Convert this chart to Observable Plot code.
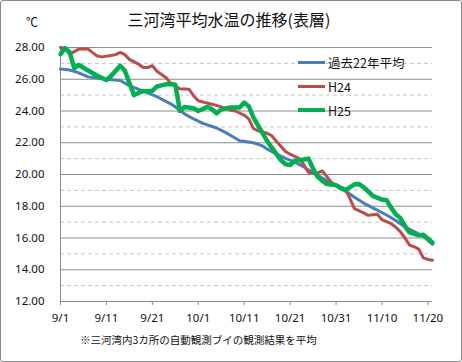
<!DOCTYPE html>
<html><head><meta charset="utf-8">
<script src="https://cdn.jsdelivr.net/npm/d3@7"></script>
<script src="https://cdn.jsdelivr.net/npm/@observablehq/plot@0.6"></script>
<style>
html,body{margin:0;padding:0;background:#fff;}
#wrap{position:relative;width:462px;height:362px;overflow:hidden;font-family:"Noto Sans CJK JP","Noto Sans",sans-serif;color:#111;}
#wrap svg{position:absolute;left:0;top:0;}
.ov{position:absolute;white-space:nowrap;line-height:1;}
#frame{position:absolute;left:0;top:0;width:460px;height:360px;border:1px solid #8a8a8a;border-radius:3px;pointer-events:none;}
.leg{position:absolute;left:298px;display:flex;align-items:center;height:16px;font-size:12.5px;}
.leg span.sw{display:inline-block;width:27px;margin-right:3px;}
</style></head>
<body><div id="wrap"></div>
<script>
const title = "三河湾平均水温の推移(表層)";
const unitLabel = "℃";
const caption = "※三河湾内3カ所の自動観測ブイの観測結果を平均";
const seriesNames = ["過去22年平均", "H24", "H25"];
const seriesColors = ["#4a7ebb", "#be4b48", "#00b050"];
const seriesWidths = [3, 3, 4.5];

// day offsets from 9/1 and values (°C)
const avgDay = [0,2,4,6,8,10,13,15,18,21,24,25,27,29,31,34,36,38,39,42,44,45,47,49,51,53,55,58,60,62,64,66,68,71,73,75,77,79,81];
const avgVal = [26.64,26.58,26.40,26.15,26.08,26.0,25.92,25.6,25.25,24.9,24.45,24.26,23.82,23.5,23.22,22.93,22.64,22.3,22.12,22.0,21.8,21.6,21.3,21.02,20.78,20.48,20.1,19.62,19.3,18.97,18.57,18.2,17.9,17.45,17.1,16.69,16.4,16.1,15.6];

const h24Day = [0,1,2,4,6,8,9,11,12,13,14,15,17,18,19,20,21,23,24,26,28,29,30,33,35,37,38,40,41,42,43,45,46,47,49,50,52,53,54,56,57,59,60,62,63,64,66,67,69,70,72,73,74,75,76,77,78,79,80,81];
const h24Val = [28.0,27.95,27.58,27.9,27.9,27.46,27.41,27.5,27.55,27.69,27.55,27.25,26.95,26.74,26.74,26.85,26.5,26.1,25.74,25.4,25.37,24.95,24.64,24.43,24.26,24.05,24.0,23.74,23.5,22.9,22.75,22.6,22.44,22.1,21.45,21.28,21.0,20.6,20.12,20.1,20.23,19.5,19.33,19.1,18.5,17.85,17.58,17.43,17.49,17.15,16.9,16.68,16.4,16.0,15.55,15.45,15.3,14.75,14.65,14.6];

const h25Day = [0,1,2,3,4,6,8,10,11,13,14,16,17,18,20,21,23,24,25,26,27,29,30,32,33,34,35,37,39,40,41,42,43,44,45,46,47,48,49,50,51,52,53,54,55,56,57,58,60,61,62,64,65,66,68,70,71,72,73,74,75,76,78,79,80,81];
const h25Val = [27.58,27.96,27.7,26.7,26.9,26.55,26.22,25.95,26.2,26.85,26.55,25.0,25.15,25.25,25.27,25.55,25.68,25.7,25.65,24.0,24.25,24.18,24.0,24.26,24.11,23.85,24.1,24.22,24.22,24.53,24.3,23.6,23.1,22.6,22.1,21.7,21.3,20.9,20.65,20.6,20.85,20.9,20.95,21.0,20.35,19.85,19.6,19.4,19.33,19.15,19.0,19.38,19.4,19.2,18.65,18.42,18.38,17.9,17.5,17.25,16.75,16.35,16.17,16.2,15.95,15.7];

const yMajor = [12,14,16,18,20,22,24,26,28];
const yMinor = [13,15,17,19,21,23,25,27];
const xTickDays = [0,10,20,30,40,50,60,70,80];
const xDomainDays = [0,81];

const start = Date.UTC(2013,8,1);
const toDate = d => new Date(start + d*864e5);
const fmt = d => `${d.getUTCMonth()+1}/${d.getUTCDate()}`;

const build = (days, vals, s) => days.map((d,i)=>({date: toDate(d), v: vals[i], s}));
const data = [
  build(avgDay, avgVal, seriesNames[0]),
  build(h24Day, h24Val, seriesNames[1]),
  build(h25Day, h25Val, seriesNames[2])
];

const grid = "#8c8c8c";
const chart = Plot.plot({
  width: 462, height: 362,
  marginLeft: 60, marginRight: 30, marginTop: 47, marginBottom: 61,
  style: {background: "transparent", fontFamily: "'Noto Sans', sans-serif", color: "#111"},
  x: {type: "utc", domain: xDomainDays.map(toDate), label: null},
  y: {domain: [12, 28], label: null},
  marks: [
    Plot.ruleY(yMinor, {stroke: "#c4c4c4", strokeDasharray: "4,3"}),
    Plot.ruleY(yMajor, {stroke: grid}),
    Plot.ruleX([toDate(0)], {stroke: grid}),
    Plot.axisY({ticks: yMajor, tickFormat: d => d.toFixed(2), tickSize: 0, tickPadding: 16, fontSize: 11.5, label: null}),
    Plot.axisX({ticks: xTickDays.map(toDate), tickFormat: fmt, tickSize: 4, tickPadding: 8, fontSize: 11.5, stroke: grid, label: null}),
    ...data.map((d,i) => Plot.line(d, {x: "date", y: "v", stroke: seriesColors[i], strokeWidth: seriesWidths[i], strokeLinejoin: "round", strokeLinecap: "round"}))
  ]
});

const wrap = document.getElementById("wrap");
wrap.appendChild(chart);

const add = (html, css, cls="ov") => { const e = document.createElement("div"); e.className = cls; e.innerHTML = html; Object.assign(e.style, css); wrap.appendChild(e); return e; };
add(title, {left: "0", width: "458px", textAlign: "center", top: "11px", fontSize: "16px"});
add(unitLabel, {left: "26px", top: "16px", fontSize: "12px"});
add(caption, {left: "80px", top: "335px", fontSize: "10.5px"});
const legTops = [54, 78, 102];
seriesNames.forEach((n,i) => {
  add(`<span class="sw" style="border-top:${seriesWidths[i]}px solid ${seriesColors[i]}"></span>${n}`, {top: legTops[i] + "px"}, "leg");
});
const fr = document.createElement("div"); fr.id = "frame"; wrap.appendChild(fr);
</script></body></html>
